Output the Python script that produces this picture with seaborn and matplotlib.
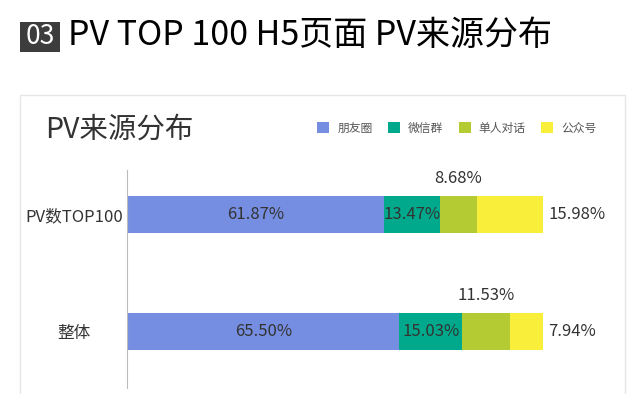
import matplotlib
matplotlib.use("Agg")
import matplotlib.pyplot as plt
from matplotlib.patches import Rectangle, Patch
import numpy as np
import pandas as pd
import seaborn as sns

# data
categories = ['PV数TOP100', '整体']
sources = ['朋友圈', '微信群', '单人对话', '公众号']
pengyouquan = [61.87, 65.50]
weixinqun = [13.47, 15.03]
danren = [8.68, 11.53]
gongzhonghao = [15.98, 7.94]
colors = ['#768EE1', '#00A98B', '#B5CB33', '#F9EE3A']

df = pd.DataFrame({'cat': categories, '朋友圈': pengyouquan, '微信群': weixinqun,
                   '单人对话': danren, '公众号': gongzhonghao})
cum = df[sources].cumsum(axis=1)

sns.set_style('white')
plt.rcParams['font.family'] = ['Noto Sans CJK SC', 'DejaVu Sans']

fig = plt.figure(figsize=(6.4, 3.94), dpi=100)
fig.patch.set_facecolor('white')

# header
fig.patches.append(Rectangle((20/640, 1-52/394), 40/640, 30/394, transform=fig.transFigure,
                             facecolor='#3d3d3d', edgecolor='none', zorder=-2))
fig.text(40/640, 1-37/394, '03', color='white', fontsize=19, ha='center', va='center')
fig.text(68/640, 1-36/394, 'PV TOP 100 H5页面 PV来源分布', color='black', fontsize=24.5,
         ha='left', va='center')

# card
fig.patches.append(Rectangle((20/640, -0.05), 605/640, 1.05-95/394, transform=fig.transFigure,
                             facecolor='white', edgecolor='#e6e6e6', lw=1, zorder=-2))
fig.text(45/640, 1-130/394, 'PV来源分布', color='#333333', fontsize=20.5, ha='left', va='center')

ax = fig.add_axes([127/640, 1-388/394, 416/640, 218/394])
ax.patch.set_alpha(0)

# stacked bars: draw cumulative totals from the end backwards
for i in range(len(sources) - 1, -1, -1):
    sns.barplot(x=cum[sources[i]], y=df['cat'], orient='h', color=colors[i],
                width=0.316, saturation=1, ax=ax, edgecolor='none')

ax.set_xlim(0, 100)
ax.set_ylim(1.483, -0.38)
ax.set_xlabel('')
ax.set_ylabel('')
ax.set_xticks([])
for s in ['top', 'right', 'bottom']:
    ax.spines[s].set_visible(False)
ax.spines['left'].set_color('#bbbbbb')
ax.tick_params(axis='y', length=0, pad=38, labelsize=12, labelcolor='#333333')
for t in ax.get_yticklabels():
    t.set_ha('center')

# value labels
for j in range(len(categories)):
    left = 0
    vals = [df.loc[j, s] for s in sources]
    for i, v in enumerate(vals):
        c = left + v / 2
        txt = f'{v:.2f}%'
        if i < 2:
            ax.text(c, j, txt, ha='center', va='center', fontsize=12, color='#333333')
        elif i == 2:
            ax.text(c, j - 0.31, txt, ha='center', va='center', fontsize=12, color='#333333')
        else:
            ax.text(101.3, j, txt, ha='left', va='center', fontsize=12, color='#333333')
        left += v

handles = [Patch(facecolor=c, edgecolor='none') for c in colors]
fig.legend(handles, sources, loc='center', bbox_to_anchor=(457/640, 1-128/394), ncol=4,
           frameon=False, fontsize=8.5, handlelength=1.0, handleheight=1.0,
           handletextpad=0.7, columnspacing=1.3, labelcolor='#555555')

fig.savefig('out.png', dpi=100, facecolor='white')
